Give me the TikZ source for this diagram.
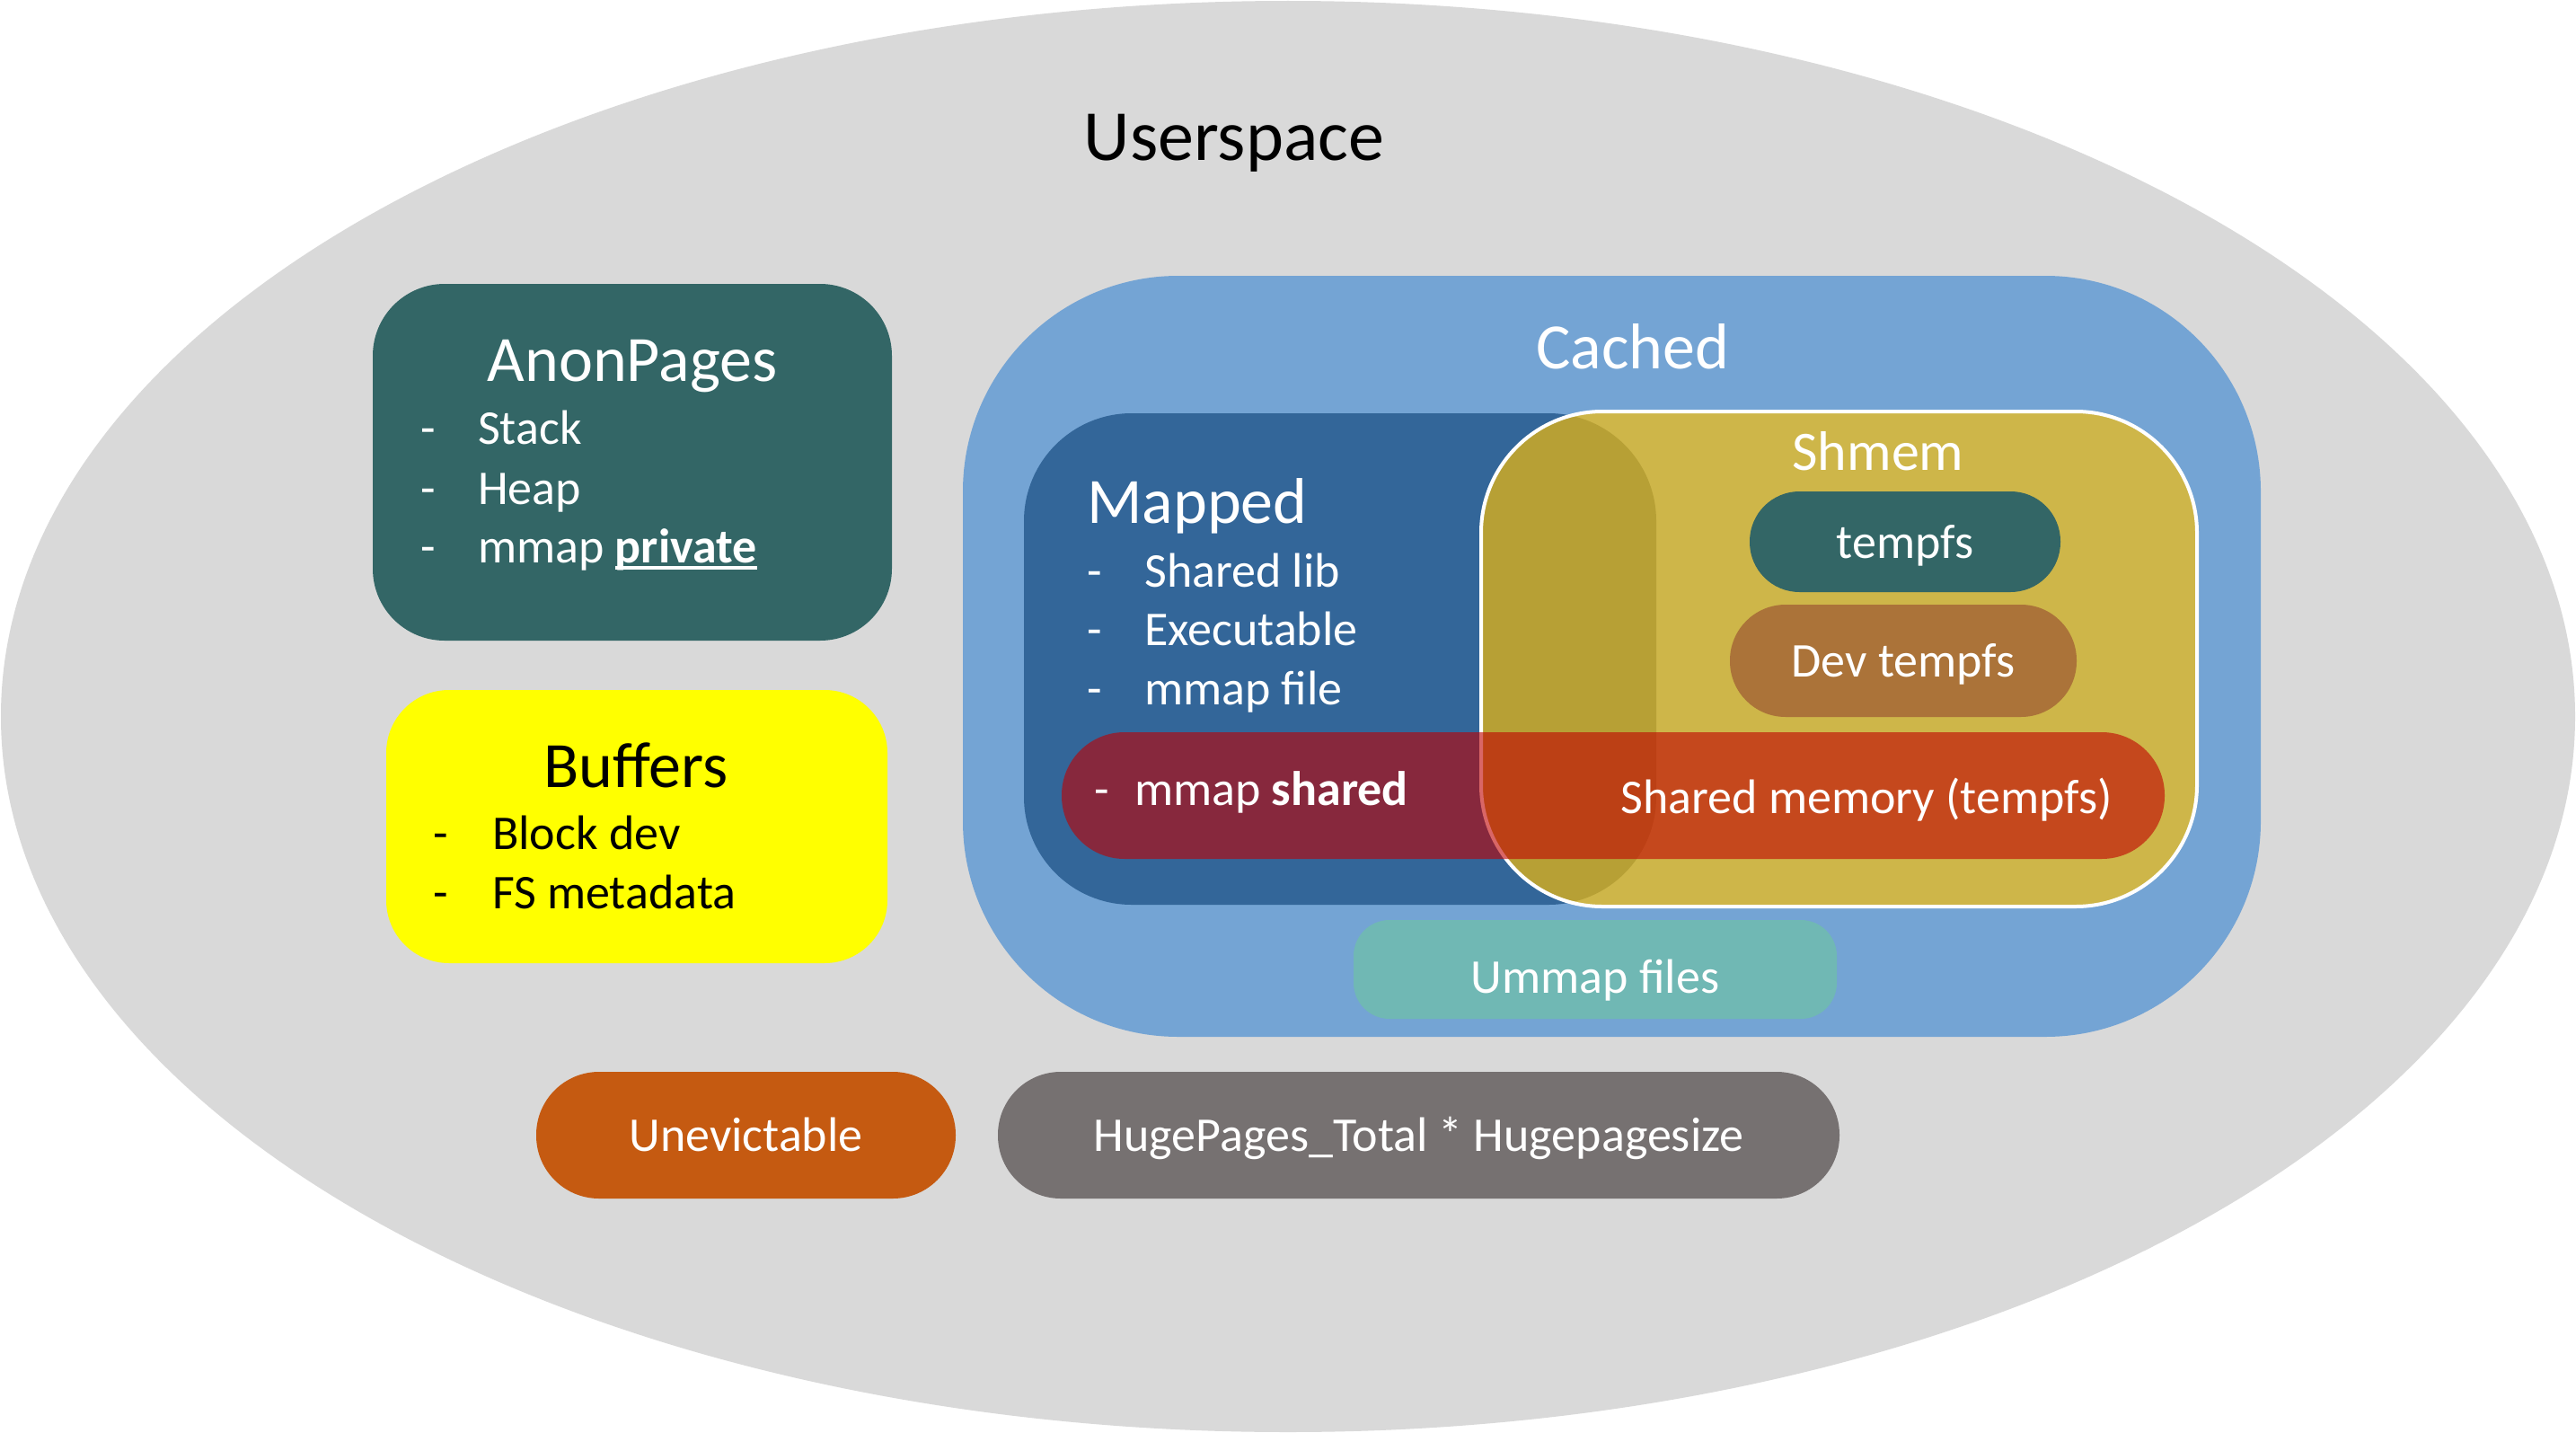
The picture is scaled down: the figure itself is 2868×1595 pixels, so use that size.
\documentclass[tikz,border=0pt]{standalone}
\usepackage{fontspec}
\setmainfont{Carlito}
\usetikzlibrary{shapes.geometric}

\definecolor{ellgray}{HTML}{D9D9D9}
\definecolor{anonteal}{HTML}{336666}
\definecolor{bufyellow}{HTML}{FFFF00}
\definecolor{cachedblue}{HTML}{74A4D4}
\definecolor{mappedblue}{HTML}{336699}
\definecolor{shmemgold}{HTML}{FFC000}
\definecolor{devbrown}{HTML}{AB7339}
\definecolor{shmred}{HTML}{C00000}
\definecolor{ummapteal}{HTML}{70B8B4}
\definecolor{unevorange}{HTML}{C55A11}
\definecolor{hugegray}{HTML}{767171}

\newcommand{\bodysize}{\fontsize{54}{64}\selectfont}
\newcommand{\titlesize}{\fontsize{72}{86}\selectfont}
% heavier underline than the default one
\newcommand{\thickul}[1]{\leavevmode\setbox0\hbox{#1}\rlap{\rule[-8pt]{\wd0}{4.5pt}}\box0}

\tikzset{
  box/.style={rectangle, inner sep=0pt, draw=none},
  title/.style={inner sep=0pt, anchor=mid, font=\titlesize, text=white},
  item/.style={inner sep=0pt, anchor=mid west, font=\bodysize, text=white},
  bullet/.style={inner sep=0pt, anchor=mid, font=\bodysize, text=white},
  label/.style={inner sep=0pt, anchor=mid, font=\bodysize, text=white},
}

\begin{document}
\begin{tikzpicture}[x=1pt, y=-1pt]
\useasboundingbox (0,0) rectangle (2868,1595);
\fill[white] (0,0) rectangle (2868,1595);

% user space ellipse
\node[ellipse, fill=ellgray, minimum width=2866pt, minimum height=1593pt, inner sep=0pt] (userspace) at (1434,797.5) {};
\node[inner sep=0pt, anchor=mid, font=\fontsize{80}{96}\selectfont] (usertitle) at (1374,176) {Userspace};

% AnonPages
\node[box, fill=anonteal, rounded corners=80pt, minimum width=578pt, minimum height=397pt] (anon) at (704,514.5) {};
\node[title] (anontitle) at (704,422) {AnonPages};
\node[bullet] (anond1) at (477,492) {-};
\node[item] (anon1) at (532,492) {Stack};
\node[bullet] (anond2) at (477,559) {-};
\node[item] (anon2) at (532,559) {Heap};
\node[bullet] (anond3) at (477,624) {-};
\node[item] (anon3) at (532,624) {mmap \thickul{\textbf{private}}};

% Buffers
\node[box, fill=bufyellow, rounded corners=70pt, minimum width=558pt, minimum height=304pt] (buffers) at (709,920) {};
\node[title, text=black] (buftitle) at (708,874) {Buffers};
\node[bullet, text=black] (bufd1) at (491,943) {-};
\node[item, text=black] (buf1) at (548,943) {Block dev};
\node[bullet, text=black] (bufd2) at (491,1009) {-};
\node[item, text=black] (buf2) at (548,1009) {FS metadata};

% Cached
\node[box, fill=cachedblue, rounded corners=240pt, minimum width=1445pt, minimum height=847pt] (cached) at (1794.5,730.5) {};
\node[title] (cachedtitle) at (1818,408) {Cached};

% Mapped
\node[box, fill=mappedblue, rounded corners=120pt, minimum width=704pt, minimum height=547pt] (mapped) at (1492,733.5) {};
\node[title, anchor=mid west] (mappedtitle) at (1210,580) {Mapped};
\node[bullet] (mapd1) at (1219,651) {-};
\node[item] (map1) at (1274,651) {Shared lib};
\node[bullet] (mapd2) at (1219,716) {-};
\node[item] (map2) at (1274,716) {Executable};
\node[bullet] (mapd3) at (1219,782) {-};
\node[item] (map3) at (1274,782) {mmap file};

% Shmem
\node[box, fill=shmemgold, fill opacity=0.65, draw=white, line width=4pt, rounded corners=135pt, minimum width=797pt, minimum height=551pt] (shmem) at (2047.5,733.5) {};
\node[inner sep=0pt, anchor=mid, font=\fontsize{62}{74}\selectfont, text=white] (shmemtitle) at (2091,521) {Shmem};
\node[box, fill=anonteal, rounded corners=55.5pt, minimum width=346pt, minimum height=112pt] (tmpfs) at (2121,603) {};
\node[label] (tmpfslabel) at (2121,619) {tempfs};
\node[box, fill=devbrown, rounded corners=62pt, minimum width=386pt, minimum height=125pt] (devtmpfs) at (2119,735.5) {};
\node[label] (devtmpfslabel) at (2119,751.5) {Dev tempfs};

% shared memory band
\node[box, fill=shmred, fill opacity=0.6, rounded corners=70pt, minimum width=1228pt, minimum height=141pt] (shmband) at (1796,885.5) {};
\node[bullet] (bandd) at (1227,894) {-};
\node[item] (bandleft) at (1263,894) {mmap \textbf{shared}};
\node[label] (bandright) at (2078,903) {Shared memory (tempfs)};

% unmapped files
\node[box, fill=ummapteal, rounded corners=40pt, minimum width=538pt, minimum height=110pt] (ummap) at (1776,1079) {};
\node[label] (ummaplabel) at (1776,1103) {Ummap files};

% bottom row
\node[box, fill=unevorange, rounded corners=70pt, minimum width=467pt, minimum height=141pt] (unevict) at (830.5,1263.5) {};
\node[label] (unevictlabel) at (830.5,1279.5) {Unevictable};
\node[box, fill=hugegray, rounded corners=70pt, minimum width=937pt, minimum height=141pt] (huge) at (1579.5,1263.5) {};
\node[label] (hugelabel) at (1579.5,1279.5) {HugePages\_Total * Hugepagesize};
\end{tikzpicture}
\end{document}
